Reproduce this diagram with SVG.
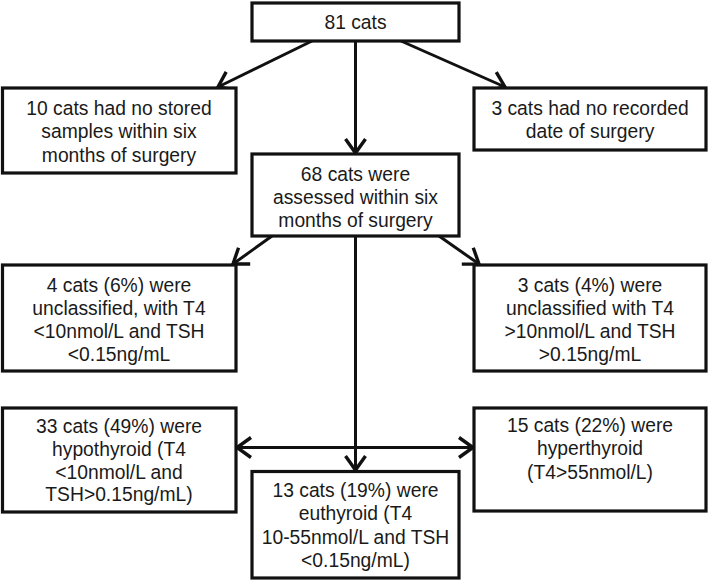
<svg xmlns="http://www.w3.org/2000/svg" width="709" height="582" viewBox="0 0 709 582">
<style>
.box{fill:#fff;stroke:#111;stroke-width:3.2}
.t{font-family:"Liberation Sans",Arial,sans-serif;font-size:19.3px;fill:#1a1a1a;text-anchor:middle;dominant-baseline:central}
.c{stroke:#111;stroke-width:3;fill:none}
</style>
<defs>
<marker id="ah" markerUnits="userSpaceOnUse" markerWidth="20" markerHeight="24" viewBox="0 0 20 24" refX="17" refY="12" orient="auto-start-reverse">
<path d="M3,2 L17,12 L3,22" fill="none" stroke="#111" stroke-width="3.4" stroke-linejoin="miter"/>
</marker>
</defs>
<rect width="709" height="582" fill="#fff"/>
<g id="connectors">
<line class="c" x1="312" y1="41" x2="218" y2="87" marker-end="url(#ah)"/>
<line class="c" x1="355.5" y1="41" x2="355.5" y2="153" marker-end="url(#ah)"/>
<line class="c" x1="401" y1="41" x2="505" y2="87" marker-end="url(#ah)"/>
<line class="c" x1="272" y1="236" x2="233" y2="264" marker-end="url(#ah)"/>
<line class="c" x1="439" y1="236" x2="479" y2="264" marker-end="url(#ah)"/>
<line class="c" x1="355.5" y1="236" x2="355.5" y2="470" marker-end="url(#ah)"/>
<line class="c" x1="237" y1="447.5" x2="473" y2="447.5" marker-start="url(#ah)" marker-end="url(#ah)"/>
</g>
<g id="n81">
<rect class="box" x="252" y="3" width="207" height="38"/>
<text class="t" x="355.5" y="22">81 cats</text>
</g>
<g id="nNoSamples">
<rect class="box" x="2.5" y="88" width="233.5" height="85"/>
<text class="t" x="119" y="108.5">10 cats had no stored</text>
<text class="t" x="119" y="131.7">samples within six</text>
<text class="t" x="119" y="155">months of surgery</text>
</g>
<g id="nNoDate">
<rect class="box" x="474" y="88" width="232" height="62"/>
<text class="t" x="590" y="108.5">3 cats had no recorded</text>
<text class="t" x="590" y="131.7">date of surgery</text>
</g>
<g id="n68">
<rect class="box" x="252" y="154" width="207" height="82"/>
<text class="t" x="355.5" y="174">68 cats were</text>
<text class="t" x="355.5" y="197">assessed within six</text>
<text class="t" x="355.5" y="220">months of surgery</text>
</g>
<g id="nUnclassLow">
<rect class="box" x="2.5" y="265" width="233.5" height="106"/>
<text class="t" x="119" y="285">4 cats (6%) were</text>
<text class="t" x="119" y="308.5">unclassified, with T4</text>
<text class="t" x="119" y="331.5">&lt;10nmol/L and TSH</text>
<text class="t" x="119" y="354.5">&lt;0.15ng/mL</text>
</g>
<g id="nUnclassHigh">
<rect class="box" x="474" y="265" width="232" height="106"/>
<text class="t" x="590" y="285">3 cats (4%) were</text>
<text class="t" x="590" y="308.5">unclassified with T4</text>
<text class="t" x="590" y="331.5">&gt;10nmol/L and TSH</text>
<text class="t" x="590" y="354.5">&gt;0.15ng/mL</text>
</g>
<g id="nHypo">
<rect class="box" x="2.5" y="408" width="233.5" height="104"/>
<text class="t" x="119" y="426">33 cats (49%) were</text>
<text class="t" x="119" y="449">hypothyroid (T4</text>
<text class="t" x="119" y="472">&lt;10nmol/L and</text>
<text class="t" x="119" y="494.5">TSH&gt;0.15ng/mL)</text>
</g>
<g id="nHyper">
<rect class="box" x="474" y="408" width="232" height="103"/>
<text class="t" x="590" y="425.5">15 cats (22%) were</text>
<text class="t" x="590" y="448.5">hyperthyroid</text>
<text class="t" x="590" y="472">(T4&gt;55nmol/L)</text>
</g>
<g id="nEu">
<rect class="box" x="252" y="471.5" width="207" height="106.5"/>
<text class="t" x="355.5" y="490.5">13 cats (19%) were</text>
<text class="t" x="355.5" y="513.5">euthyroid (T4</text>
<text class="t" x="355.5" y="537">10-55nmol/L and TSH</text>
<text class="t" x="355.5" y="560">&lt;0.15ng/mL)</text>
</g>
</svg>
